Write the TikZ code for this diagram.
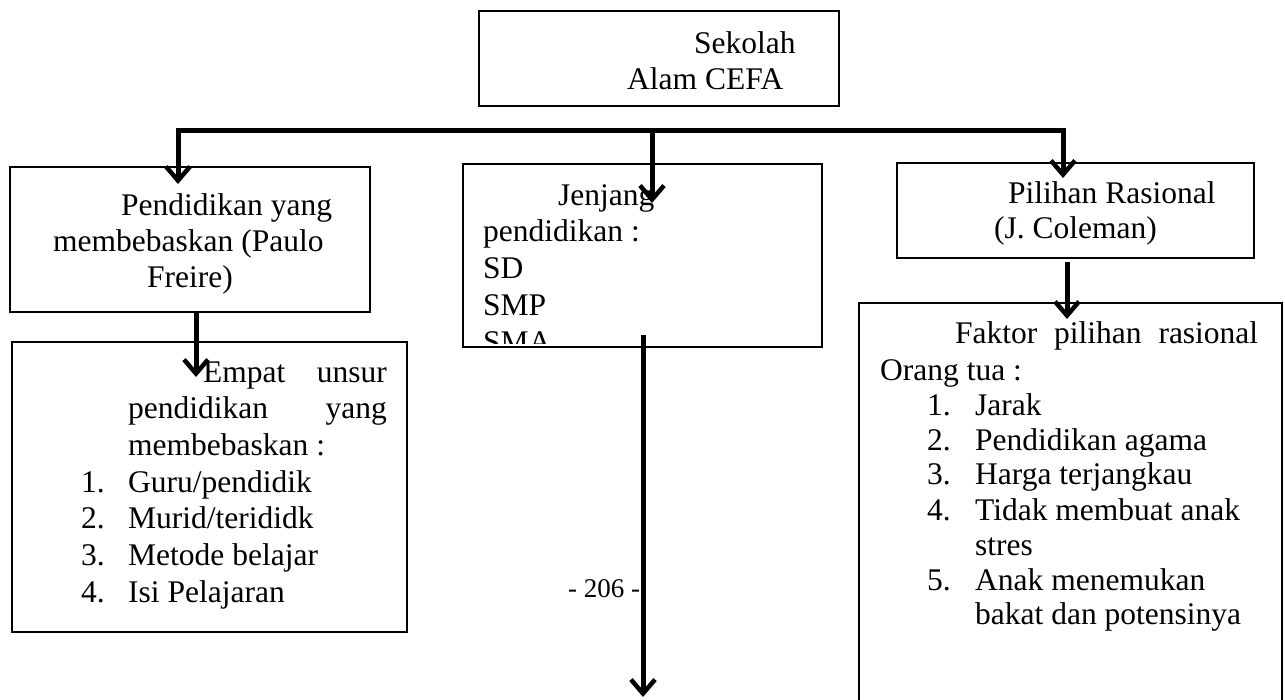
\documentclass[tikz,border=0pt]{standalone}
\usepackage{fontspec}
\setmainfont{Liberation Serif}
\usetikzlibrary{arrows.meta}
\begin{document}
\begin{tikzpicture}[x=1pt,y=-1pt,
  box/.style={draw, line width=1.8pt, inner sep=0pt},
  txt/.style={inner sep=0pt, anchor=base west, font=\fontsize{31.5}{37}\selectfont},
  txte/.style={txt, anchor=base east},
  bus/.style={line width=5pt, line cap=rect},
  arr/.style={line width=5pt, -{Straight Barb[length=14pt,width=24pt,line width=4.5pt]}}]
\useasboundingbox (0,0) rectangle (1285,699);
% boxes
\node[box, minimum width=360pt, minimum height=95pt] (top) at (659,58.5) {};
\node[box, minimum width=360pt, minimum height=145pt] (pf) at (190,239.5) {};
\node[box, minimum width=395pt, minimum height=290pt] (unsur) at (209.5,487) {};
\node[box, minimum width=359pt, minimum height=183pt] (jenjang) at (642.5,255.5) {};
\node[box, minimum width=357pt, minimum height=95pt] (pr) at (1075.5,210.5) {};
\node[box, minimum width=423pt, minimum height=417pt] (faktor) at (1070.5,511.5) {};
% top text
\node[txt] (t1) at (694,53) {Sekolah};
\node[txt] (t2) at (627,89) {Alam CEFA};
% left box 1
\node[txt] (p1) at (121,215) {Pendidikan yang};
\node[txt] (p2) at (53,251) {membebaskan (Paulo};
\node[txt] (p3) at (147,287) {Freire)};
% left box 2
\node[txt] (u1a) at (203,382) {Empat};
\node[txte] (u1b) at (387,382) {unsur};
\node[txt] (u2a) at (128,418) {pendidikan};
\node[txte] (u2b) at (387,418) {yang};
\node[txt] (u3) at (128,455) {membebaskan :};
\node[txt] (n1) at (81,492) {1.};
\node[txt] (i1) at (128,492) {Guru/pendidik};
\node[txt] (n2) at (81,528) {2.};
\node[txt] (i2) at (128,528) {Murid/terididk};
\node[txt] (n3) at (81,565) {3.};
\node[txt] (i3) at (128,565) {Metode belajar};
\node[txt] (n4) at (81,602) {4.};
\node[txt] (i4) at (128,602) {Isi Pelajaran};
% middle box
\node[txt] (j1) at (558,205) {Jenjang};
\node[txt] (j2) at (483,241) {pendidikan :};
\node[txt] (j3) at (483,278) {SD};
\node[txt] (j4) at (483,315) {SMP};
\begin{scope}
\clip (465,300) rectangle (820,343);
\node[txt] (j5) at (483,352) {SMA};
\end{scope}
% right box 1
\node[txt] (r1) at (1008,203) {Pilihan Rasional};
\node[txt] (r2) at (994,238) {(J. Coleman)};
% right box 2
\node[txt] (f1) at (955,343) {\makebox[303pt][s]{Faktor\hfill pilihan\hfill rasional}};
\node[txt] (f2) at (880,380) {Orang tua :};
\node[txt] (m1) at (927,415) {1.};
\node[txt] (k1) at (975,415) {Jarak};
\node[txt] (m2) at (927,450) {2.};
\node[txt] (k2) at (975,450) {Pendidikan agama};
\node[txt] (m3) at (927,484) {3.};
\node[txt] (k3) at (975,484) {Harga terjangkau};
\node[txt] (m4) at (927,520) {4.};
\node[txt] (k4) at (975,520) {Tidak membuat anak};
\node[txt] (k4b) at (975,555) {stres};
\node[txt] (m5) at (927,590) {5.};
\node[txt] (k5) at (975,590) {Anak menemukan};
\node[txt] (k5b) at (975,624) {bakat dan potensinya};
% page number
\node[inner sep=0pt, anchor=base, font=\fontsize{27}{30}\selectfont] (pg) at (604,597) {- 206 -};
% connectors
\coordinate (busL) at (178,130);
\coordinate (busM) at (652,130);
\coordinate (busR) at (1063,130);
\coordinate (tipL) at (178,184);
\coordinate (tipM) at (652,203);
\coordinate (tipR) at (1063,178);
\draw[bus] (busL) -- (busR);
\draw[arr] (busL) -- (tipL);
\draw[arr] (busM) -- (tipM);
\draw[arr] (busR) -- (tipR);
\coordinate (tipU) at (196,377);
\draw[arr] (pf.south -| tipU) -- (tipU);
\coordinate (tipF) at (1067,319);
\coordinate (srcF) at (1067,262);
\draw[arr] (srcF) -- (tipF);
\coordinate (srcJ) at (643,335);
\coordinate (tipJ) at (643,697);
\draw[arr] (srcJ) -- (tipJ);
\end{tikzpicture}
\end{document}
